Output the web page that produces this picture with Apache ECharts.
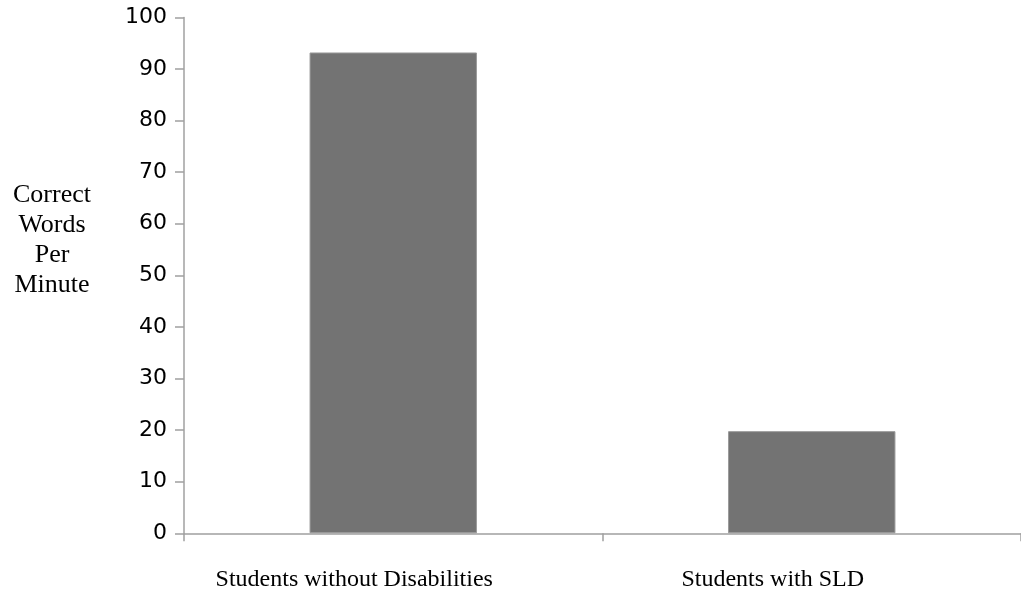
<!DOCTYPE html>
<html>
<head>
<meta charset="utf-8">
<script src="https://cdn.jsdelivr.net/npm/echarts@6/dist/echarts.min.js"></script>
<style>
html,body{margin:0;padding:0;background:#fff;}
#chart{width:1021px;height:592px;}
</style>
</head>
<body>
<div id="chart"></div>
<script>
const categories = ['Students without Disabilities', 'Students with SLD'];
const values = [93.2, 19.8];
const yTitleLines = ['Correct', 'Words', 'Per', 'Minute'];

const chart = echarts.init(document.getElementById('chart'), null, {renderer: 'canvas'});
chart.setOption({
  animation: false,
  backgroundColor: '#ffffff',
  grid: {left: 184, top: 17.4, bottom: 58.7, width: 846, containLabel: false},
  xAxis: {
    type: 'category',
    data: categories,
    boundaryGap: true,
    axisLine: {show: true, lineStyle: {color: '#a0a0a0', width: 1.5}},
    axisTick: {show: true, inside: false, length: 8, lineStyle: {color: '#a0a0a0', width: 1.5}},
    axisLabel: {
      color: '#000', fontFamily: '"Liberation Serif", "DejaVu Serif", serif', fontSize: 24,
      margin: 34, padding: [0, 78, 0, 0]
    }
  },
  yAxis: {
    type: 'value',
    min: 0, max: 100, interval: 10,
    axisLine: {show: true, lineStyle: {color: '#a0a0a0', width: 1.5}},
    axisTick: {show: true, inside: false, length: 9, lineStyle: {color: '#a0a0a0', width: 1.5}},
    splitLine: {show: false},
    axisLabel: {color: '#000', fontFamily: '"DejaVu Sans", sans-serif', fontSize: 22, margin: 17}
  },
  graphic: [{
    type: 'text',
    x: 52, y: 240,
    style: {
      text: yTitleLines.join('\n'),
      align: 'center',
      verticalAlign: 'middle',
      lineHeight: 30,
      fill: '#000',
      font: '26px "Liberation Serif", "DejaVu Serif", serif'
    }
  }],
  series: [{
    type: 'bar',
    data: values,
    barWidth: '40%',
    itemStyle: {color: '#737373', borderColor: '#9a9a9a', borderWidth: 1}
  }]
});
</script>
</body>
</html>
